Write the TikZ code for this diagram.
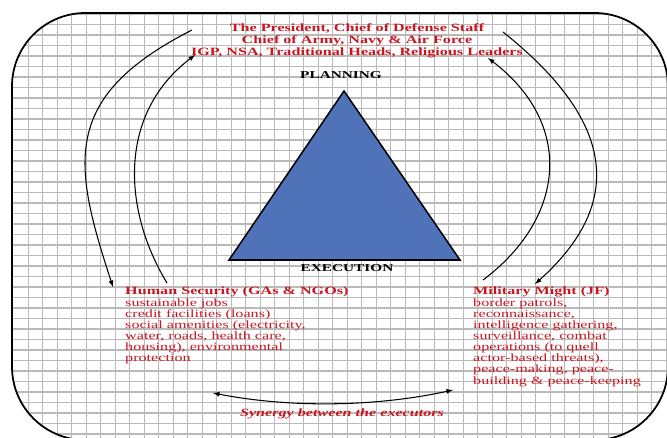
\documentclass[tikz,border=0pt]{standalone}
\usepackage{fontspec}
\setmainfont{Liberation Serif}[FakeStretch=1.45]
\definecolor{leadred}{RGB}{200,22,32}
\definecolor{triblue}{RGB}{80,114,184}
\tikzstyle{every picture}+=[remember picture]
\tikzstyle{gridline}=[black!27, line width=1pt]
\tikzstyle{loop}=[-latex, line width=0.9pt]
\tikzstyle{redtext}=[leadred, inner sep=0pt, align=left, font=\fontsize{9.5}{9.5}\selectfont]
\tikzstyle{toptext}=[leadred, inner sep=0pt, align=center, font=\fontsize{9.5}{10.2}\selectfont\bfseries]
\tikzstyle{stagetext}=[black, inner sep=0pt, font=\fontsize{9}{9}\selectfont\bfseries]

\begin{document}
\begin{tikzpicture}[x=0.03cm, y=-0.03cm]
		\useasboundingbox (0,0) rectangle (667,437);
		% squared paper inside the frame
		\begin{scope}
		\clip[rounded corners=2.2cm] (12,13) rectangle (668,440);
		\foreach \gx in {0,...,46}
			\draw[gridline] ({28.3+14.5*\gx},0) -- ({28.3+14.5*\gx},440);
		\foreach \gy in {0,...,42}
			\draw[gridline] (0,{3.5+10.5*\gy}) -- (668,{3.5+10.5*\gy});
		\end{scope}
		\draw[line width=1.5pt, rounded corners=2.2cm] (12,13) rectangle (668,440);
		% pyramid
		\coordinate (apex) at (344,91);
		\coordinate (baseL) at (229,260);
		\coordinate (baseR) at (460,260);
		\filldraw[fill=triblue, line width=1.3pt, line join=miter] (apex) -- (baseL) -- (baseR) -- cycle;
		\node[stagetext] (plan) at (341,75) {PLANNING};
		\node[stagetext] (exec) at (347,268) {EXECUTION};
		% texts
		\node[toptext] (leaders) at (357,41) {The President, Chief of Defense Staff\\Chief of Army, Navy \& Air Force\\IGP, NSA, Traditional Heads, Religious Leaders};
		\node[redtext, anchor=north west] (human) at (125,287) {\textbf{Human Security (GAs \& NGOs)}\\sustainable jobs\\credit facilities (loans)\\social amenities (electricity,\\water, roads, health care,\\housing), environmental\\protection};
		\node[redtext, anchor=north west] (military) at (473,287) {\textbf{Military Might (JF)}\\border patrols,\\reconnaissance,\\intelligence gathering,\\surveillance, combat\\operations (to quell\\actor-based threats),\\peace-making, peace-\\building \& peace-keeping};
		\node[redtext, font=\fontsize{9.5}{9.5}\selectfont\bfseries\itshape] (synergy) at (342,414) {Synergy between the executors};
		% loops
		\coordinate (LO) at (192,30);
		\coordinate (LOend) at (113,287);
		\coordinate (LI) at (167,283);
		\coordinate (LIend) at (195,55);
		\coordinate (RO) at (503,32);
		\coordinate (ROend) at (535,284);
		\coordinate (RI) at (483,280);
		\coordinate (RIend) at (488,58);
		\coordinate (SL) at (213,393);
		\coordinate (SR) at (453,390);
		\draw[loop] (LO) .. controls (60.7,96.8) and (72.3,162.9) .. (LOend);
		\draw[loop] (LI) .. controls (122,208.8) and (118.3,113.2) .. (LIend);
		\draw[loop] (RO) .. controls (604.2,112.5) and (633.9,195.5) .. (ROend);
		\draw[loop] (RI) .. controls (566.4,217.4) and (573.9,123.3) .. (RIend);
		\draw[loop, latex-latex] (SL) .. controls (290,408) and (375,407) .. (SR);
		\end{tikzpicture}
\end{document}
